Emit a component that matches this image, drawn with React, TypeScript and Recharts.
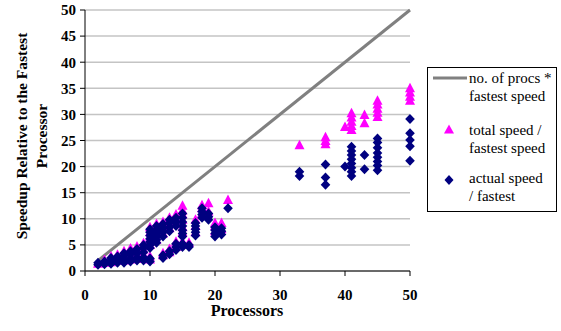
import { CartesianGrid, Scatter, ScatterChart, XAxis, YAxis } from "recharts";

// processor counts that were measured
const procCounts = [2, 3, 4, 5, 6, 7, 8, 9, 10, 11, 12, 13, 14, 15, 16, 17, 18, 19, 20, 21, 22, 33, 37, 40, 41, 43, 45, 50];

// total speed / fastest speed (one list per processor count)
const totalSpeed: number[][] = [
  [1.4],
  [1.6, 2.1],
  [1.7, 2.4, 2.8],
  [2.0, 2.6, 3.1],
  [2.0, 2.6, 3.3, 3.8],
  [2.2, 2.8, 3.6, 4.3],
  [2.3, 3.0, 3.8, 4.7],
  [2.4, 3.1, 4.1, 5.3],
  [2.2, 2.8, 5.0, 5.8, 6.6, 7.4, 8.4],
  [6.0, 7.0, 8.0, 9.0],
  [3.0, 3.4, 7.2, 8.2, 9.4],
  [3.6, 4.2, 8.2, 9.2, 10.2],
  [4.6, 5.6, 9.2, 10.0, 10.8],
  [5.0, 5.6, 7.4, 8.4, 9.8, 10.8, 11.6, 12.5],
  [5.4],
  [7.4, 8.6, 9.8],
  [11.0, 12.0, 12.6],
  [11.4, 13.0],
  [7.6, 8.6, 9.2],
  [8.0, 9.2],
  [13.6],
  [24.1],
  [24.3, 24.9, 25.6],
  [27.6],
  [27.0, 27.8, 28.6, 29.4, 30.2],
  [28.3, 29.9],
  [29.5, 30.3, 31.1, 31.9, 32.6],
  [32.6, 33.4, 34.2, 35.0],
];

// actual speed / fastest speed
const actualSpeed: number[][] = [
  [1.2, 1.6],
  [1.3, 1.8],
  [1.4, 2.0, 2.5],
  [1.6, 2.2, 2.8],
  [1.6, 2.2, 2.9, 3.4],
  [1.8, 2.4, 3.2, 3.8],
  [2.0, 2.6, 3.4, 4.2],
  [2.0, 2.6, 3.6, 4.4, 5.0],
  [1.8, 2.4, 4.4, 5.0, 5.6, 6.2, 6.8, 7.4, 8.0],
  [5.4, 6.0, 6.6, 7.2, 7.8, 8.6],
  [2.5, 3.0, 6.6, 7.4, 8.2, 9.0],
  [3.2, 3.8, 7.6, 8.4, 9.2, 9.8],
  [4.0, 4.6, 5.2, 8.6, 9.4, 10.2],
  [4.6, 5.2, 6.6, 7.2, 7.8, 8.6, 9.4, 10.2, 11.0],
  [4.6, 5.0],
  [6.8, 7.4, 8.0, 8.6, 9.2],
  [10.2, 10.8, 11.4, 12.0],
  [9.8, 10.4, 11.0],
  [6.6, 7.2, 7.8, 8.4],
  [7.0, 7.6, 8.2],
  [12.0],
  [18.2, 19.0],
  [16.5, 17.9, 20.4],
  [20.0],
  [18.2, 19.0, 19.8, 20.6, 21.4, 22.2, 23.0, 23.8],
  [19.5, 22.2],
  [19.3, 20.2, 21.0, 21.8, 22.6, 23.6, 24.6, 25.4],
  [21.1, 23.9, 25.1, 26.4, 29.1],
];

// ideal speedup: no. of procs * fastest speed
const idealProcs = [2, 50];

const yTicks = [0, 5, 10, 15, 20, 25, 30, 35, 40, 45, 50];
const xTicks = [0, 10, 20, 30, 40, 50];

const toPoints = (lists: number[][]) =>
  procCounts.flatMap((p, i) => lists[i].map((v) => ({ x: p, y: v })));

const totalPoints = toPoints(totalSpeed);
const actualPoints = toPoints(actualSpeed);
const idealPoints = idealProcs.map((p) => ({ x: p, y: p }));

const serif = "'Liberation Serif', 'DejaVu Serif', serif";
const tickStyle = { fill: "#000", fontSize: 15, fontWeight: 700, fontFamily: serif };

const Diamond = (props: any) => {
  const { cx, cy } = props;
  return <polygon points={`${cx},${cy - 5} ${cx + 4.8},${cy} ${cx},${cy + 5} ${cx - 4.8},${cy}`} fill="#000080" />;
};

const Triangle = (props: any) => {
  const { cx, cy } = props;
  return <polygon points={`${cx},${cy - 5.5} ${cx + 5},${cy + 4} ${cx - 5},${cy + 4}`} fill="#ff00ff" />;
};

export default function App() {
  return (
    <div style={{ position: "absolute", left: 0, top: 0, width: 561, height: 331, background: "#fff", fontFamily: serif }}>
      <ScatterChart width={561} height={331} margin={{ top: 10, right: 151, bottom: 0, left: 0 }}>
        <CartesianGrid vertical={false} stroke="#c4c4c4" strokeWidth={1.5} />
        <XAxis
          type="number"
          dataKey="x"
          domain={[0, 50]}
          ticks={xTicks}
          height={60}
          tickSize={5}
          tickMargin={13}
          stroke="#000"
          tick={tickStyle}
          interval={0}
        />
        <YAxis
          type="number"
          dataKey="y"
          domain={[0, 50]}
          ticks={yTicks}
          width={85}
          tickSize={5}
          tickMargin={4}
          stroke="#000"
          tick={tickStyle}
          interval={0}
        />
        <Scatter
          data={idealPoints}
          line={{ stroke: "#808080", strokeWidth: 3 }}
          shape={() => <g />}
          isAnimationActive={false}
        />
        <Scatter data={totalPoints} shape={Triangle} isAnimationActive={false} />
        <Scatter data={actualPoints} shape={Diamond} isAnimationActive={false} />
      </ScatterChart>

      {/* axis titles */}
      <div
        style={{
          position: "absolute",
          left: 32,
          top: 136,
          transform: "translate(-50%, -50%) rotate(-90deg)",
          whiteSpace: "nowrap",
          textAlign: "center",
          fontWeight: 700,
          fontSize: 15.5,
          lineHeight: "20px",
        }}
      >
        Speedup Relative to the Fastest
        <br />
        Processor
      </div>
      <div
        style={{
          position: "absolute",
          left: 247,
          top: 311,
          transform: "translate(-50%, -50%)",
          fontWeight: 700,
          fontSize: 16,
          whiteSpace: "nowrap",
        }}
      >
        Processors
      </div>

      {/* legend */}
      <div
        style={{
          position: "absolute",
          left: 427,
          top: 67,
          width: 128,
          height: 143,
          border: "1px solid #000",
          fontSize: 15,
          lineHeight: "18px",
        }}
      >
        <svg width={36} height={10} style={{ position: "absolute", left: 4, top: 5 }}>
          <line x1={1} y1={5} x2={35} y2={5} stroke="#808080" strokeWidth={3} />
        </svg>
        <div style={{ position: "absolute", left: 41, top: 1, whiteSpace: "nowrap" }}>
          no. of procs *<br />fastest speed
        </div>
        <svg width={14} height={14} style={{ position: "absolute", left: 14, top: 55 }}>
          <polygon points="7,1.5 12,10.5 2,10.5" fill="#ff00ff" />
        </svg>
        <div style={{ position: "absolute", left: 41, top: 53, whiteSpace: "nowrap" }}>
          total speed /<br />fastest speed
        </div>
        <svg width={14} height={14} style={{ position: "absolute", left: 14, top: 105 }}>
          <polygon points="7,2 11.5,7 7,12 2.5,7" fill="#000080" />
        </svg>
        <div style={{ position: "absolute", left: 41, top: 101, whiteSpace: "nowrap" }}>
          actual speed<br />/ fastest
        </div>
      </div>
    </div>
  );
}
